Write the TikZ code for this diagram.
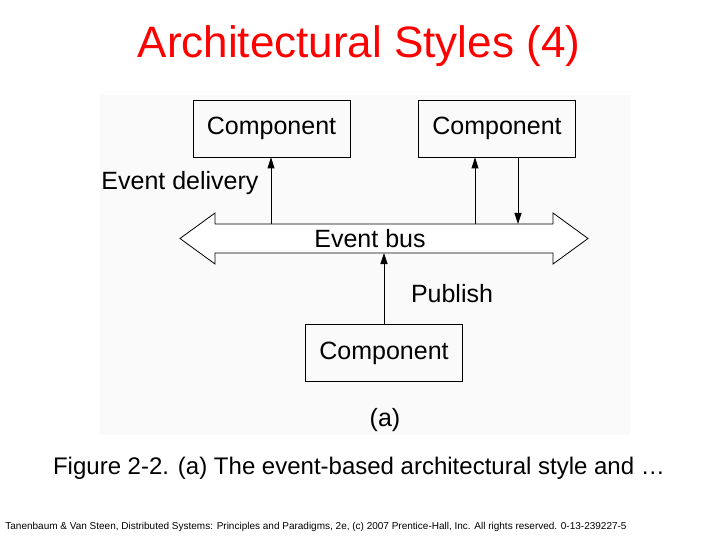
\documentclass[tikz,border=0pt]{standalone}
\usepackage{fontspec}
\setmainfont{Liberation Sans}
\usetikzlibrary{arrows.meta}
\begin{document}
\begin{tikzpicture}[x=1pt,y=-1pt]
\tikzset{comp/.style = {draw, thick, minimum width=157pt, minimum height=57pt, inner sep=0pt, font=\fontsize{25}{25}\selectfont},
lbl/.style = {font=\fontsize{25}{25}\selectfont},
arr/.style = {thick, -{Triangle[length=11pt,width=7pt]}}}
\useasboundingbox[fill=white] (0,0) rectangle (720,540);
\fill[gray!4] (100,95) rectangle (630,435);
\node[text=red, font=\fontsize{44}{44}\selectfont] (title) at (359,46) {Architectural Styles (4)};
\node[comp] (c1) at (271.5,128.5) {Component};
\node[comp] (c2) at (497,128.5) {Component};
\node[comp] (c3) at (384,353) {Component};
% event bus
\draw[thick, fill=white] (180,238.5) -- (215,213) -- (215,224) -- (553,224) -- (553,213)
  -- (588,238.5) -- (553,264) -- (553,253) -- (215,253) -- (215,264) -- cycle;
\node[lbl] (bus) at (370,238.5) {Event bus};
\coordinate (b1) at (271,224);
\coordinate (b2) at (475,224);
\coordinate (b3) at (518,224);
\coordinate (b4) at (384,253);
\draw[arr] (b1) -- (b1 |- c1.south);
\draw[arr] (b2) -- (b2 |- c2.south);
\draw[arr] (b3 |- c2.south) -- (b3);
\draw[arr] (c3.north) -- (b4);
\node[lbl] (deliv) at (180,183) {Event delivery};
\node[lbl] (pub) at (452,294) {Publish};
\node[lbl] (a) at (385,420) {(a)};
\node[font=\fontsize{24}{24}\selectfont] (cap) at (359,468) {Figure 2-2. (a) The event-based architectural style and \dots};
\node[font=\fontsize{10}{10}\selectfont] (foot) at (316,527) {Tanenbaum \& Van Steen, Distributed Systems: Principles and Paradigms, 2e, (c) 2007 Prentice-Hall, Inc. All rights reserved. 0-13-239227-5};
\end{tikzpicture}
\end{document}
